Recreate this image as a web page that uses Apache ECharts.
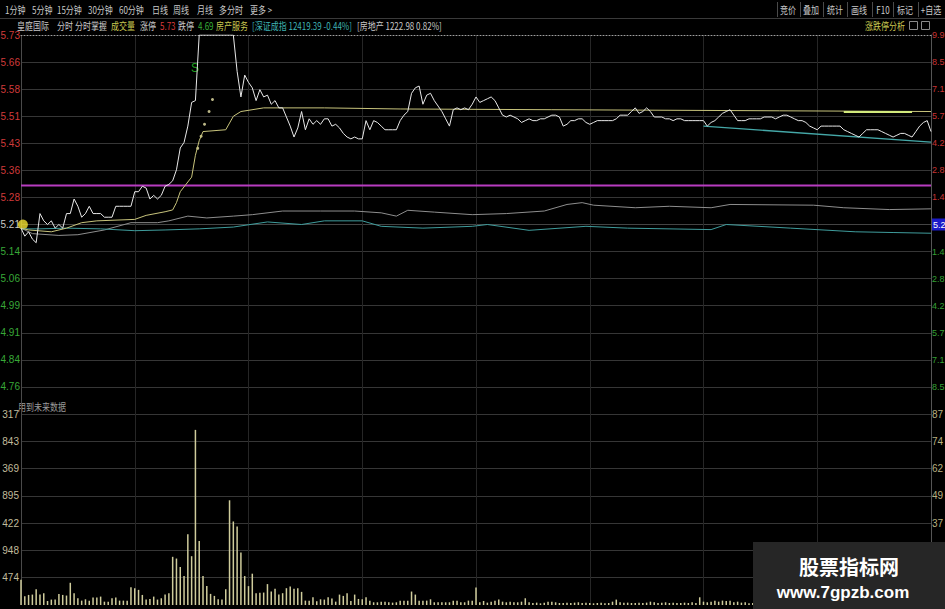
<!DOCTYPE html>
<html><head><meta charset="utf-8">
<script src="https://cdn.jsdelivr.net/npm/echarts@6/dist/echarts.min.js"></script>
<style>html,body{margin:0;padding:0;background:#000;}#c{width:945px;height:609px;}</style>
</head><body><div id="c"></div>
<script>
// ---------- DATA ----------
const priceLeftLabels = ['', '4.76','4.84','4.91','4.99','5.06','5.14','5.21','5.28','5.36','5.43','5.51','5.58','5.66','5.73'];
const priceRightLabels = ['', '8.5','7.1','5.7','4.2','2.8','1.4','5.2','1.4','2.8','4.2','5.7','7.1','8.5','9.9'];
const volLeftLabels = ['', '474','948','422','895','369','843','317'];
const volRightLabels = ['', '12','24','37','49','62','74','87'];

const priceLine = [
5.20,5.178,5.19,5.17,5.16,5.24,5.22,5.21,5.22,5.20,
5.21,5.20,5.24,5.24,5.28,5.26,5.23,5.24,5.26,5.24,
5.24,5.24,5.23,5.23,5.23,5.26,5.26,5.26,5.26,5.26,
5.30,5.30,5.315,5.31,5.28,5.29,5.28,5.29,5.315,5.32,
5.33,5.36,5.42,5.435,5.48,5.545,5.55,5.73,5.73,5.73,
5.73,5.73,5.73,5.73,5.73,5.73,5.73,5.63,5.56,5.62,
5.60,5.585,5.55,5.58,5.56,5.565,5.54,5.55,5.53,5.53,
5.505,5.48,5.45,5.475,5.52,5.47,5.50,5.485,5.495,5.485,
5.50,5.50,5.48,5.485,5.475,5.46,5.45,5.445,5.45,5.445,
5.445,5.495,5.47,5.495,5.49,5.48,5.47,5.47,5.47,5.47,
5.495,5.51,5.52,5.57,5.585,5.59,5.54,5.565,5.57,5.55,
5.535,5.52,5.50,5.48,5.525,5.53,5.525,5.53,5.525,5.54,
5.56,5.545,5.55,5.555,5.56,5.55,5.53,5.51,5.505,5.51,
5.505,5.50,5.49,5.495,5.50,5.495,5.495,5.50,5.50,5.505,
5.51,5.51,5.505,5.48,5.485,5.495,5.495,5.50,5.50,5.49,
5.485,5.49,5.495,5.495,5.495,5.495,5.495,5.50,5.51,5.51,
5.51,5.52,5.53,5.515,5.52,5.53,5.52,5.505,5.505,5.505,
5.50,5.50,5.495,5.50,5.50,5.495,5.495,5.495,5.495,5.495,
5.495,5.48,5.49,5.495,5.505,5.515,5.52,5.525,5.51,5.495,
5.495,5.495,5.50,5.50,5.50,5.50,5.505,5.505,5.505,5.50,
5.505,5.51,5.51,5.505,5.50,5.495,5.495,5.49,5.48,5.475,
5.47,5.48,5.48,5.48,5.48,5.48,5.48,5.47,5.465,5.46,
5.455,5.45,5.46,5.47,5.47,5.47,5.47,5.465,5.46,5.455,
5.45,5.455,5.46,5.46,5.455,5.45,5.465,5.48,5.49,5.495,5.465
];

const avgMinutes = [0,2,8,12,16,20,30,33,38,40,41,42,45,46,47,48,54,56,58,64,80,100,140,200,240];
const avgValues  = [5.20,5.195,5.19,5.20,5.215,5.22,5.224,5.235,5.245,5.25,5.27,5.30,5.34,5.40,5.44,5.465,5.47,5.507,5.52,5.53,5.53,5.527,5.525,5.522,5.52];

const grayMinutes = [0,3,10,15,22,29,36,39,44,49,56,61,69,79,88,95,99,102,109,119,128,138,144,148,151,162,171,182,187,209,217,229,240];
const grayValues  = [5.20,5.185,5.18,5.182,5.195,5.215,5.215,5.22,5.233,5.228,5.233,5.237,5.247,5.247,5.247,5.242,5.233,5.249,5.244,5.237,5.24,5.247,5.265,5.27,5.263,5.256,5.26,5.256,5.265,5.263,5.256,5.251,5.253];

const tealMinutes = [0,5,12,21,30,38,47,56,65,74,80,90,95,106,119,123,134,149,160,182,186,203,220,230,240];
const tealValues  = [5.198,5.198,5.20,5.198,5.193,5.195,5.198,5.203,5.217,5.21,5.22,5.22,5.205,5.20,5.205,5.21,5.194,5.205,5.20,5.196,5.21,5.20,5.19,5.188,5.186];

const trendMinutes = [180,240];
const trendValues  = [5.48,5.436];

const pinkLevel = 5.317;
const brightAvgMinutes = [217,235];
const brightAvgValues  = [5.519,5.519];

const dotMinutes = [46.6,47.5,48.4,49.6,50.5];
const dotValues  = [5.419,5.452,5.485,5.52,5.553];
const signalS = [45.9, 5.639];
const startDot = [0.5, 5.21];

const volume = [
439,152,175,181,275,181,205,70,94,94,
193,175,164,386,205,117,76,99,76,129,
129,146,58,58,117,129,76,76,76,310,
292,263,175,94,105,146,94,117,181,205,
837,807,661,503,1228,848,3042,1111,503,328,
193,158,99,94,275,1819,1451,1363,913,503,
328,544,205,211,216,363,234,281,181,205,
292,322,281,292,228,76,76,134,64,99,
94,134,111,58,181,158,205,70,181,105,
99,134,76,47,47,58,58,47,41,47,
76,76,76,234,181,76,76,76,99,47,
47,47,47,47,76,76,47,47,76,76,
304,47,70,41,58,76,94,58,47,58,
47,47,58,117,47,35,41,29,41,58,
58,47,35,35,41,35,41,47,35,41,
35,29,35,41,29,35,58,94,47,41,
41,35,35,41,35,41,58,47,35,41,
47,35,41,35,35,41,35,47,35,134,
58,47,58,76,58,76,70,76,47,58,
41,47,29,35,41,35,47,58,35,41,
29,35,47,41,35,58,41,35,47,29,
35,41,70,47,35,41,35,47,58,41,
35,29,41,35,47,58,41,35,47,41,
35,58,41,47,35,41,58,76,94,117,164
];

const toolbarItems = ['1分钟','5分钟','15分钟','30分钟','60分钟','日线','周线','月线','多分时','更多 >'];
const buttonItems = ['竞价','叠加','统计','画线','F10','标记','+自选'];
const infoItems = [
  ['皇庭国际','#c8c8c8'],['分时','#c8c8c8'],['分时掌握','#c8c8c8'],['成交量','#c8c850'],
  ['涨停','#c8c8c8'],['5.73','#d83a3a'],['跌停','#c8c8c8'],['4.69','#38b038'],
  ['房产服务','#c8c850'],['[深证成指 12419.39 -0.44%]','#3fb4b4'],['[房地产 1222.98 0.82%]','#c8c8c8']
];
const rightInfo = '涨跌停分析';
const volPanelTitle = '用到未来数据';
const watermark1 = '股票指标网';
const watermark2 = 'www.7gpzb.com';

// ---------- LAYOUT ----------
const pair = (xs, ys) => xs.map((x, i) => [x, ys[i]]);
const toolbarX = [5,32,57,88,119,152,173,197,219,250];
const buttonCX = [788,811,835,859,883,905,931];
const buttonSep = [777,800,823,847,872,893,918];
const infoX = [17,57,75,111,140,160,178,198,216,252,357];
const CJK = '"Noto Sans CJK SC", "Noto Sans", sans-serif';
const NUM = '"Liberation Sans", Arial, sans-serif';
const SX = 0.8;

function txt(t, x, y, fill, align) {
  return {type:'text', x:x, y:y, scaleX:SX,
    style:{text:t, x:0, y:0, fill:fill, font:'10px ' + CJK, textAlign:align || 'left', textVerticalAlign:'middle'}};
}
const graphic = [];
toolbarItems.forEach((t, i) => graphic.push(txt(t, toolbarX[i], 10, '#c8c8c8')));
buttonItems.forEach((t, i) => graphic.push(txt(t, buttonCX[i], 10, '#c8c8c8', 'center')));
buttonSep.forEach(x => graphic.push({type:'line', shape:{x1:x+0.5, y1:2, x2:x+0.5, y2:17}, style:{stroke:'#4a4a4a', lineWidth:1}}));
graphic.push({type:'line', shape:{x1:0, y1:18.5, x2:945, y2:18.5}, style:{stroke:'#3a3a3a', lineWidth:1}});
infoItems.forEach((it, i) => graphic.push(txt(it[0], infoX[i], 26, it[1])));
graphic.push(txt(rightInfo, 865, 26, '#c8c850'));
graphic.push({type:'rect', shape:{x:909.5, y:21.5, width:8, height:8}, style:{fill:'none', stroke:'#8a8a8a', lineWidth:1}});
graphic.push({type:'rect', shape:{x:921.5, y:21.5, width:8, height:8}, style:{fill:'none', stroke:'#8a8a8a', lineWidth:1}});
graphic.push(txt(volPanelTitle, 18, 407, '#9a9a9a'));
graphic.push({type:'rect', shape:{x:753, y:542, width:192, height:67}, style:{fill:'#262626'}, z:100});
graphic.push({type:'text', x:849, y:566, z:101, style:{text:watermark1, fill:'#ffffff', font:'bold 20px ' + CJK, textAlign:'center', textVerticalAlign:'middle'}});
graphic.push({type:'text', x:843, y:592, z:101, style:{text:watermark2, fill:'#ffffff', font:'bold 17px ' + NUM, textAlign:'center', textVerticalAlign:'middle'}});

const hGrid = '#363636';
const priceSplitColors = priceLeftLabels.map((_, i) => i === priceLeftLabels.length - 1 ? 'rgba(0,0,0,0)' : (i === 7 ? '#444' : hGrid));
const vColors = ['#4a4a4a','#262626','#262626','#262626','#262626','#262626','#262626','#262626','#555'];
const volSplitColors = volLeftLabels.map((_, i) => i === 0 ? 'rgba(0,0,0,0)' : hGrid);

const chart = echarts.init(document.getElementById('c'), null, {renderer:'svg'});
chart.setOption({
  backgroundColor:'#000',
  animation:false,
  grid:[
    {left:21, right:14, top:35, height:379, outerBoundsMode:'none', containLabel:false},
    {left:21, right:14, top:414, height:191, outerBoundsMode:'none', containLabel:false}
  ],
  xAxis:[
    {gridIndex:0, type:'value', min:0, max:240, interval:30, position:'top',
     axisLine:{show:true, lineStyle:{color:'#a0a0a0', type:[1,2]}}, axisTick:{show:false}, axisLabel:{show:false},
     splitLine:{show:true, lineStyle:{color:vColors}}},
    {gridIndex:1, type:'value', min:0, max:240, interval:30,
     axisLine:{show:false}, axisTick:{show:false}, axisLabel:{show:false},
     splitLine:{show:true, lineStyle:{color:vColors}}}
  ],
  yAxis:[
    {gridIndex:0, type:'value', min:4.69, max:5.73, show:false},
    {gridIndex:0, type:'category', data:priceLeftLabels, boundaryGap:false, position:'left',
     axisLine:{show:false}, axisTick:{show:false},
     axisLabel:{interval:0, fontSize:10, fontFamily:NUM, margin:1,
       color:(v, i) => i > 7 ? '#d03a3a' : (i === 7 ? '#c8c8c8' : '#38a838')},
     splitLine:{show:true, lineStyle:{color:priceSplitColors}}},
    {gridIndex:0, type:'category', data:priceRightLabels, boundaryGap:false, position:'right',
     axisLine:{show:true, lineStyle:{color:'#555'}}, axisTick:{show:false},
     axisLabel:{interval:0, fontSize:9, fontFamily:NUM, margin:1, align:'left',
       formatter:(v, i) => i === 7 ? '{b|' + v + '}' : v,
       color:(v, i) => i > 7 ? '#c83434' : '#34a034',
       rich:{b:{backgroundColor:'#1c1cc8', color:'#ffffff', fontSize:9, fontFamily:NUM, padding:[2,0,1,1]}}},
     splitLine:{show:false}},
    {gridIndex:1, type:'value', min:0, max:3318, interval:474, position:'left',
     axisLine:{show:false}, axisTick:{show:false},
     axisLabel:{fontSize:10, fontFamily:NUM, margin:2, color:'#c0bc9c',
       formatter:v => volLeftLabels[Math.round(v / 474)]},
     splitLine:{show:true, lineStyle:{color:volSplitColors}}},
    {gridIndex:1, type:'value', min:0, max:3318, interval:474, position:'right',
     axisLine:{show:true, lineStyle:{color:'#555'}}, axisTick:{show:false},
     axisLabel:{fontSize:10, fontFamily:NUM, margin:1, color:'#b8b080',
       formatter:v => volRightLabels[Math.round(v / 474)]},
     splitLine:{show:false}}
  ],
  graphic: graphic,
  series:[
    {type:'line', name:'pink', xAxisIndex:0, yAxisIndex:0, data:[[0,pinkLevel],[240,pinkLevel]], symbol:'none',
     lineStyle:{color:'#b83cc0', width:2}},
    {type:'line', name:'gray', xAxisIndex:0, yAxisIndex:0, data:pair(grayMinutes, grayValues), symbol:'none',
     lineStyle:{color:'#8e8e8e', width:1}},
    {type:'line', name:'teal', xAxisIndex:0, yAxisIndex:0, data:pair(tealMinutes, tealValues), symbol:'none',
     lineStyle:{color:'#3f9c9c', width:1}},
    {type:'line', name:'trend', xAxisIndex:0, yAxisIndex:0, data:pair(trendMinutes, trendValues), symbol:'none',
     lineStyle:{color:'#45a8a8', width:1.3}},
    {type:'line', name:'avg', xAxisIndex:0, yAxisIndex:0, data:pair(avgMinutes, avgValues), symbol:'none',
     lineStyle:{color:'#c8c47c', width:1}},
    {type:'line', name:'avg2', xAxisIndex:0, yAxisIndex:0, data:pair(brightAvgMinutes, brightAvgValues), symbol:'none',
     lineStyle:{color:'#d2ea7c', width:2}},
    {type:'line', name:'price', xAxisIndex:0, yAxisIndex:0, data:priceLine.map((v, i) => [i, v]), symbol:'none',
     lineStyle:{color:'#e8e8e8', width:1}},
    {type:'scatter', name:'dots', xAxisIndex:0, yAxisIndex:0, data:pair(dotMinutes, dotValues), symbol:'circle', symbolSize:3,
     itemStyle:{color:'#e8e4a8'}},
    {type:'scatter', name:'S', xAxisIndex:0, yAxisIndex:0, data:[signalS], symbolSize:1, itemStyle:{color:'rgba(0,0,0,0)'},
     label:{show:true, position:'inside', formatter:'S', color:'#2ad02a', fontSize:12, fontFamily:NUM}},
    {type:'scatter', name:'start', xAxisIndex:0, yAxisIndex:0, data:[startDot], symbol:'circle', symbolSize:10,
     itemStyle:{color:'#f0e030'}},
    {type:'bar', name:'vol', xAxisIndex:1, yAxisIndex:3, data:volume.map((v, i) => [i, v]), barWidth:1.5,
     itemStyle:{color:'#cfcc9c'}}
  ]
});
</script></body></html>
